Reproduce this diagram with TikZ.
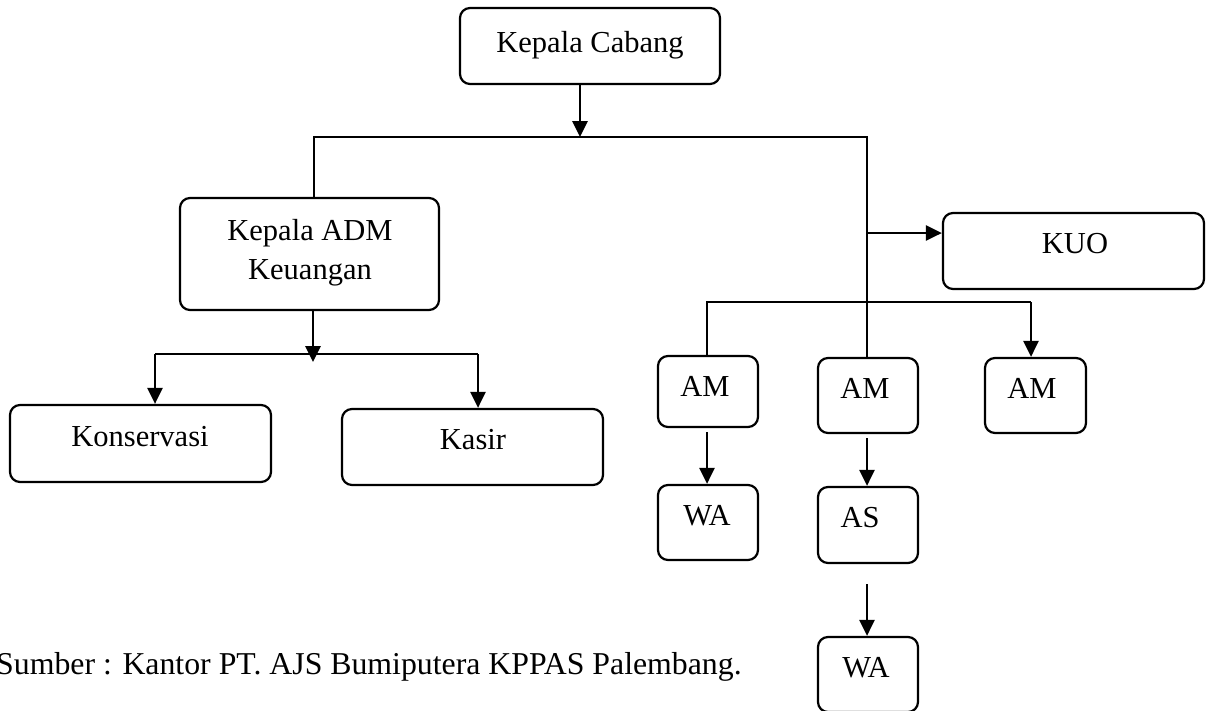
\documentclass[tikz,border=0pt]{standalone}
\usepackage{fontspec}
\setmainfont{Liberation Serif}
\usetikzlibrary{arrows.meta}
\tikzset{
  box/.style={draw, rounded corners=10pt, line width=2.2pt, inner sep=0pt},
  lbl/.style={anchor=base, inner sep=0pt, font=\fontsize{30.5}{36}\selectfont},
  conn/.style={line width=2.7pt},
  arr/.style={line width=2.7pt, -{Triangle[length=16pt,width=15pt]}},
}
\begin{document}
\begin{tikzpicture}[x=1pt,y=-1pt]
\useasboundingbox (0,0) rectangle (1211,710);
% boxes
\node[box, minimum width=260pt, minimum height=76pt] (kc) at (590,46) {};
\node[lbl] (kct) at (590,52) {Kepala Cabang};
\node[box, minimum width=259pt, minimum height=112pt] (adm) at (309.5,254) {};
\node[lbl] (admt1) at (310,240) {Kepala ADM};
\node[lbl] (admt2) at (310,279) {Keuangan};
\node[box, minimum width=261pt, minimum height=77pt] (kon) at (140.5,443.5) {};
\node[lbl] (kont) at (140,446) {Konservasi};
\node[box, minimum width=261pt, minimum height=76pt] (kas) at (472.5,447) {};
\node[lbl] (kast) at (473,449) {Kasir};
\node[box, minimum width=261pt, minimum height=76pt] (kuo) at (1073.5,251) {};
\node[lbl] (kuot) at (1075,253) {KUO};
\node[box, minimum width=100pt, minimum height=71pt] (am1) at (708,391.5) {};
\node[lbl] (am1t) at (705,396) {AM};
\node[box, minimum width=100pt, minimum height=75pt] (am2) at (868,395.5) {};
\node[lbl] (am2t) at (865,398) {AM};
\node[box, minimum width=101pt, minimum height=75pt] (am3) at (1035.5,395.5) {};
\node[lbl] (am3t) at (1032,398) {AM};
\node[box, minimum width=100pt, minimum height=75pt] (wa1) at (708,522.5) {};
\node[lbl] (wa1t) at (707,525) {WA};
\node[box, minimum width=100pt, minimum height=76pt] (as) at (868,525) {};
\node[lbl] (ast) at (860,527) {AS};
\node[box, minimum width=100pt, minimum height=75pt] (wa2) at (868,674.5) {};
\node[lbl] (wa2t) at (866,677) {WA};
\node[anchor=base west, inner sep=0pt, font=\fontsize{31.8}{38}\selectfont] (src) at (-4,674) {Sumber : Kantor PT. AJS Bumiputera KPPAS Palembang.};
% junctions
\coordinate (j1) at (580,137);
\coordinate (jl) at (314,137);
\coordinate (jr) at (867,137);
\coordinate (jk) at (867,233);
\coordinate (j2) at (313,354);
\coordinate (j2l) at (155,354);
\coordinate (j2r) at (478,354);
\coordinate (j3l) at (707,302);
\coordinate (j3r) at (1031,302);
% connectors
\draw[arr] (kc.south -| j1) -- (j1);
\draw[conn] (jl |- adm.north) -- (jl) -- (jr) -- (jr |- am2.north);
\draw[arr] (jk) -- (jk -| kuo.west);
\draw[arr] (adm.south -| j2) -- ([yshift=-8pt]j2);
\draw[conn] (j2l) -- (j2r);
\draw[arr] (j2l) -- (j2l |- kon.north);
\draw[arr] (j2r) -- (j2r |- kas.north);
\draw[conn] (j3l |- am1.north) -- (j3l) -- (j3r);
\draw[arr] (j3r) -- (j3r |- am3.north);
\draw[arr, shorten <=4pt] (am1.south -| j3l) -- (j3l |- wa1.north);
\draw[arr, shorten <=4pt] (am2.south -| jr) -- (jr |- as.north);
\draw[arr, shorten <=20pt] (as.south -| jr) -- (jr |- wa2.north);
\end{tikzpicture}
\end{document}
